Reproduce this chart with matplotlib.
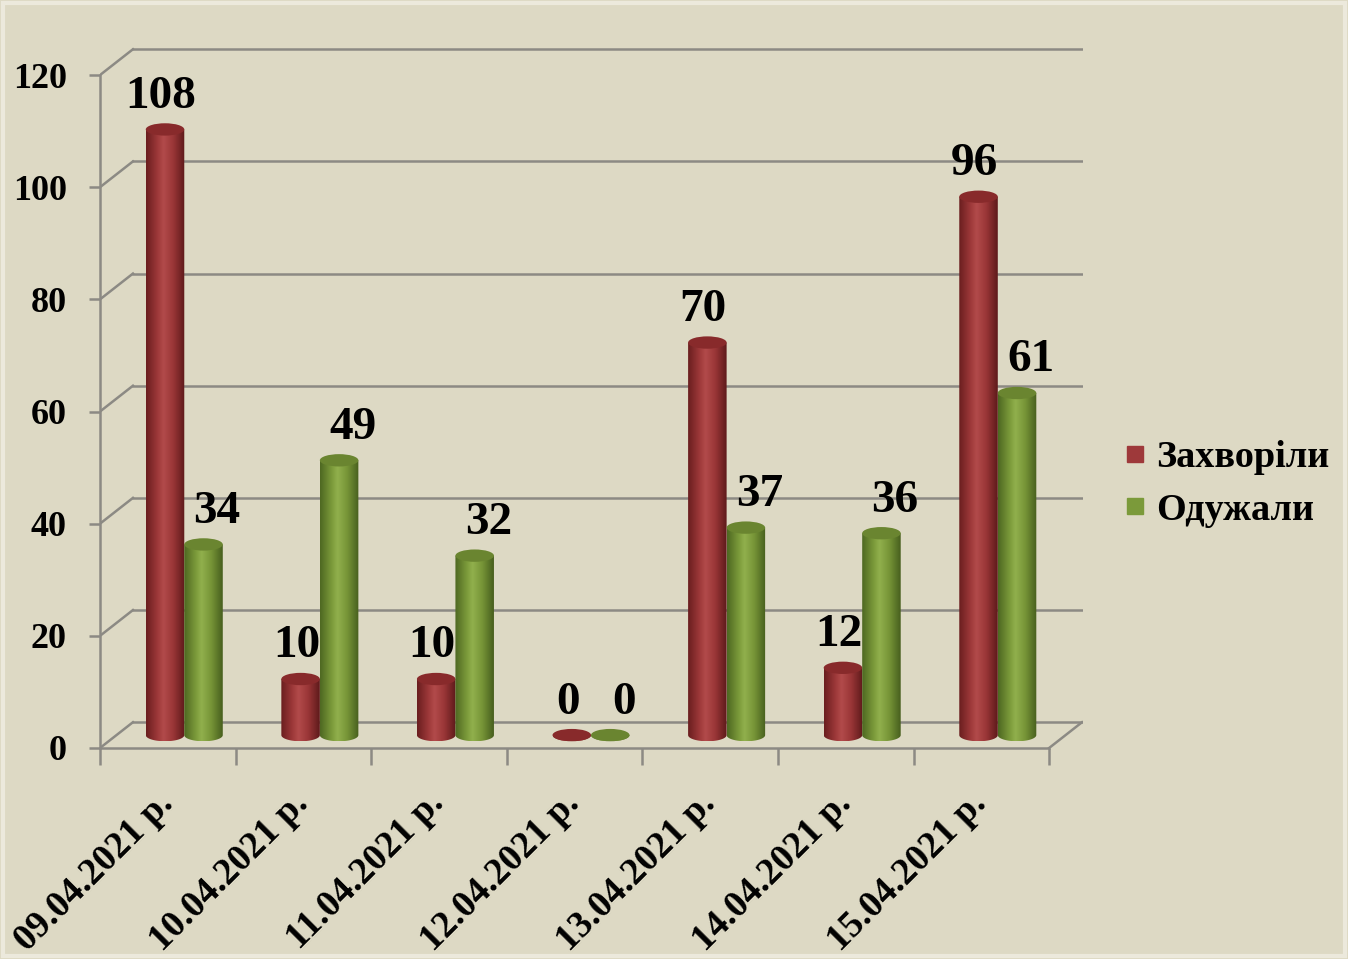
import numpy as np
import matplotlib.pyplot as plt
from matplotlib.patches import Ellipse, Polygon, Rectangle
from matplotlib.colors import LinearSegmentedColormap
from matplotlib.lines import Line2D

dates = ['09.04.2021 р.', '10.04.2021 р.', '11.04.2021 р.', '12.04.2021 р.',
         '13.04.2021 р.', '14.04.2021 р.', '15.04.2021 р.']
sick = [108, 10, 10, 0, 70, 12, 96]
recovered = [34, 49, 32, 0, 37, 36, 61]
names = ['Захворіли', 'Одужали']

plt.rcParams['font.family'] = ['Liberation Serif', 'DejaVu Serif']
plt.rcParams['font.weight'] = 'bold'

bg = '#DDD9C4'
grid_c = '#8C8A84'
red = ['#6A1E1F', '#9E393A', '#B24B4B', '#9A3637', '#5E1A1B']
green = ['#4E6822', '#7B9A3A', '#91B04D', '#779537', '#475F1E']
red_top = '#882A2B'
green_top = '#6A8530'

dx, dy = 0.243, 4.6   # depth offset of back wall
w = 0.284             # cylinder width
ry = 1.1              # ellipse half height

fig = plt.figure(figsize=(13.48, 9.59), dpi=100, facecolor=bg)
fig.patches.append(Rectangle((0.002, 0.003), 0.996, 0.994, transform=fig.transFigure,
                             fill=False, edgecolor='#ECE9DC', lw=3))
ax = fig.add_axes([100/1348, 211/959, 983/1348, 701/959])
ax.set_facecolor(bg)
ax.patch.set_alpha(0)

# back wall gridlines and left wall diagonals
for v in range(0, 121, 20):
    ax.plot([dx, 7 + dx], [v + dy, v + dy], color=grid_c, lw=1.8, zorder=1)
    ax.plot([0, dx], [v, v + dy], color=grid_c, lw=1.8, zorder=1)
ax.plot([7, 7 + dx], [0, dy], color=grid_c, lw=1.8, zorder=1)


def cylinder(xl, top, cols, topc, z):
    base = dy / 2
    top = top + base
    cx = xl + w / 2
    t = np.linspace(np.pi, 2 * np.pi, 60)
    xs = np.concatenate([[xl], cx + w / 2 * np.cos(t), [xl + w]])
    ys = np.concatenate([[top], base + ry * np.sin(t), [top]])
    poly = Polygon(np.column_stack([xs, ys]), closed=True, facecolor='none',
                   edgecolor='none', transform=ax.transData)
    ax.add_patch(poly)
    cmap = LinearSegmentedColormap.from_list('c', list(zip([0, 0.3, 0.45, 0.7, 1], cols)))
    im = ax.imshow(np.linspace(0, 1, 100).reshape(1, -1), extent=[xl, xl + w, base - ry, top],
                   cmap=cmap, aspect='auto', zorder=z, interpolation='bicubic')
    im.set_clip_path(poly)
    ax.add_patch(Ellipse((cx, top), w, 2 * ry, facecolor=topc, edgecolor='none', zorder=z + 0.1))


for i in range(len(dates)):
    c = i + 0.5 + dx / 2
    cylinder(c - w, sick[i], red, red_top, 3 + i * 0.01)
    cylinder(c, recovered[i], green, green_top, 4 + i * 0.01)
    ax.text(c - w / 2 - 0.03, sick[i] + dy / 2 + 5.8, str(sick[i]), fontsize=34,
            ha='center', va='center', zorder=10)
    ax.text(c + w / 2 + 0.1, recovered[i] + dy / 2 + 5.8, str(recovered[i]), fontsize=34,
            ha='center', va='center', zorder=10)

ax.set_xlim(0, 7.25)
ax.set_ylim(0, 125)

for s in ['top', 'right']:
    ax.spines[s].set_visible(False)
ax.spines['left'].set_bounds(0, 120)
ax.spines['bottom'].set_bounds(0, 7)
for s in ['left', 'bottom']:
    ax.spines[s].set_color(grid_c)
    ax.spines[s].set_linewidth(1.8)

ax.set_yticks(range(0, 121, 20))
ax.tick_params(axis='y', length=8, width=1.8, color=grid_c, labelsize=26, pad=16)
ax.set_xticks(range(0, 8))
ax.set_xticklabels([])
ax.set_xticks(np.arange(len(dates)) + 0.5, minor=True)
ax.set_xticklabels(dates, minor=True, rotation=45, ha='right', va='center',
                   rotation_mode='anchor', fontsize=27)
ax.tick_params(axis='x', which='major', length=12, width=1.8, color=grid_c)
ax.tick_params(axis='x', which='minor', length=0, pad=36)

handles = [Line2D([], [], ls='none', marker='s', markersize=11, color=red[1]),
           Line2D([], [], ls='none', marker='s', markersize=11, color=green[1])]
fig.legend(handles, names, loc='center left', bbox_to_anchor=(1082/1348, 1 - 484/959),
           frameon=False, fontsize=27.5, handletextpad=0.05, labelspacing=0.45,
           handlelength=1.0)

fig.savefig('out.png', dpi=100, facecolor=bg)
